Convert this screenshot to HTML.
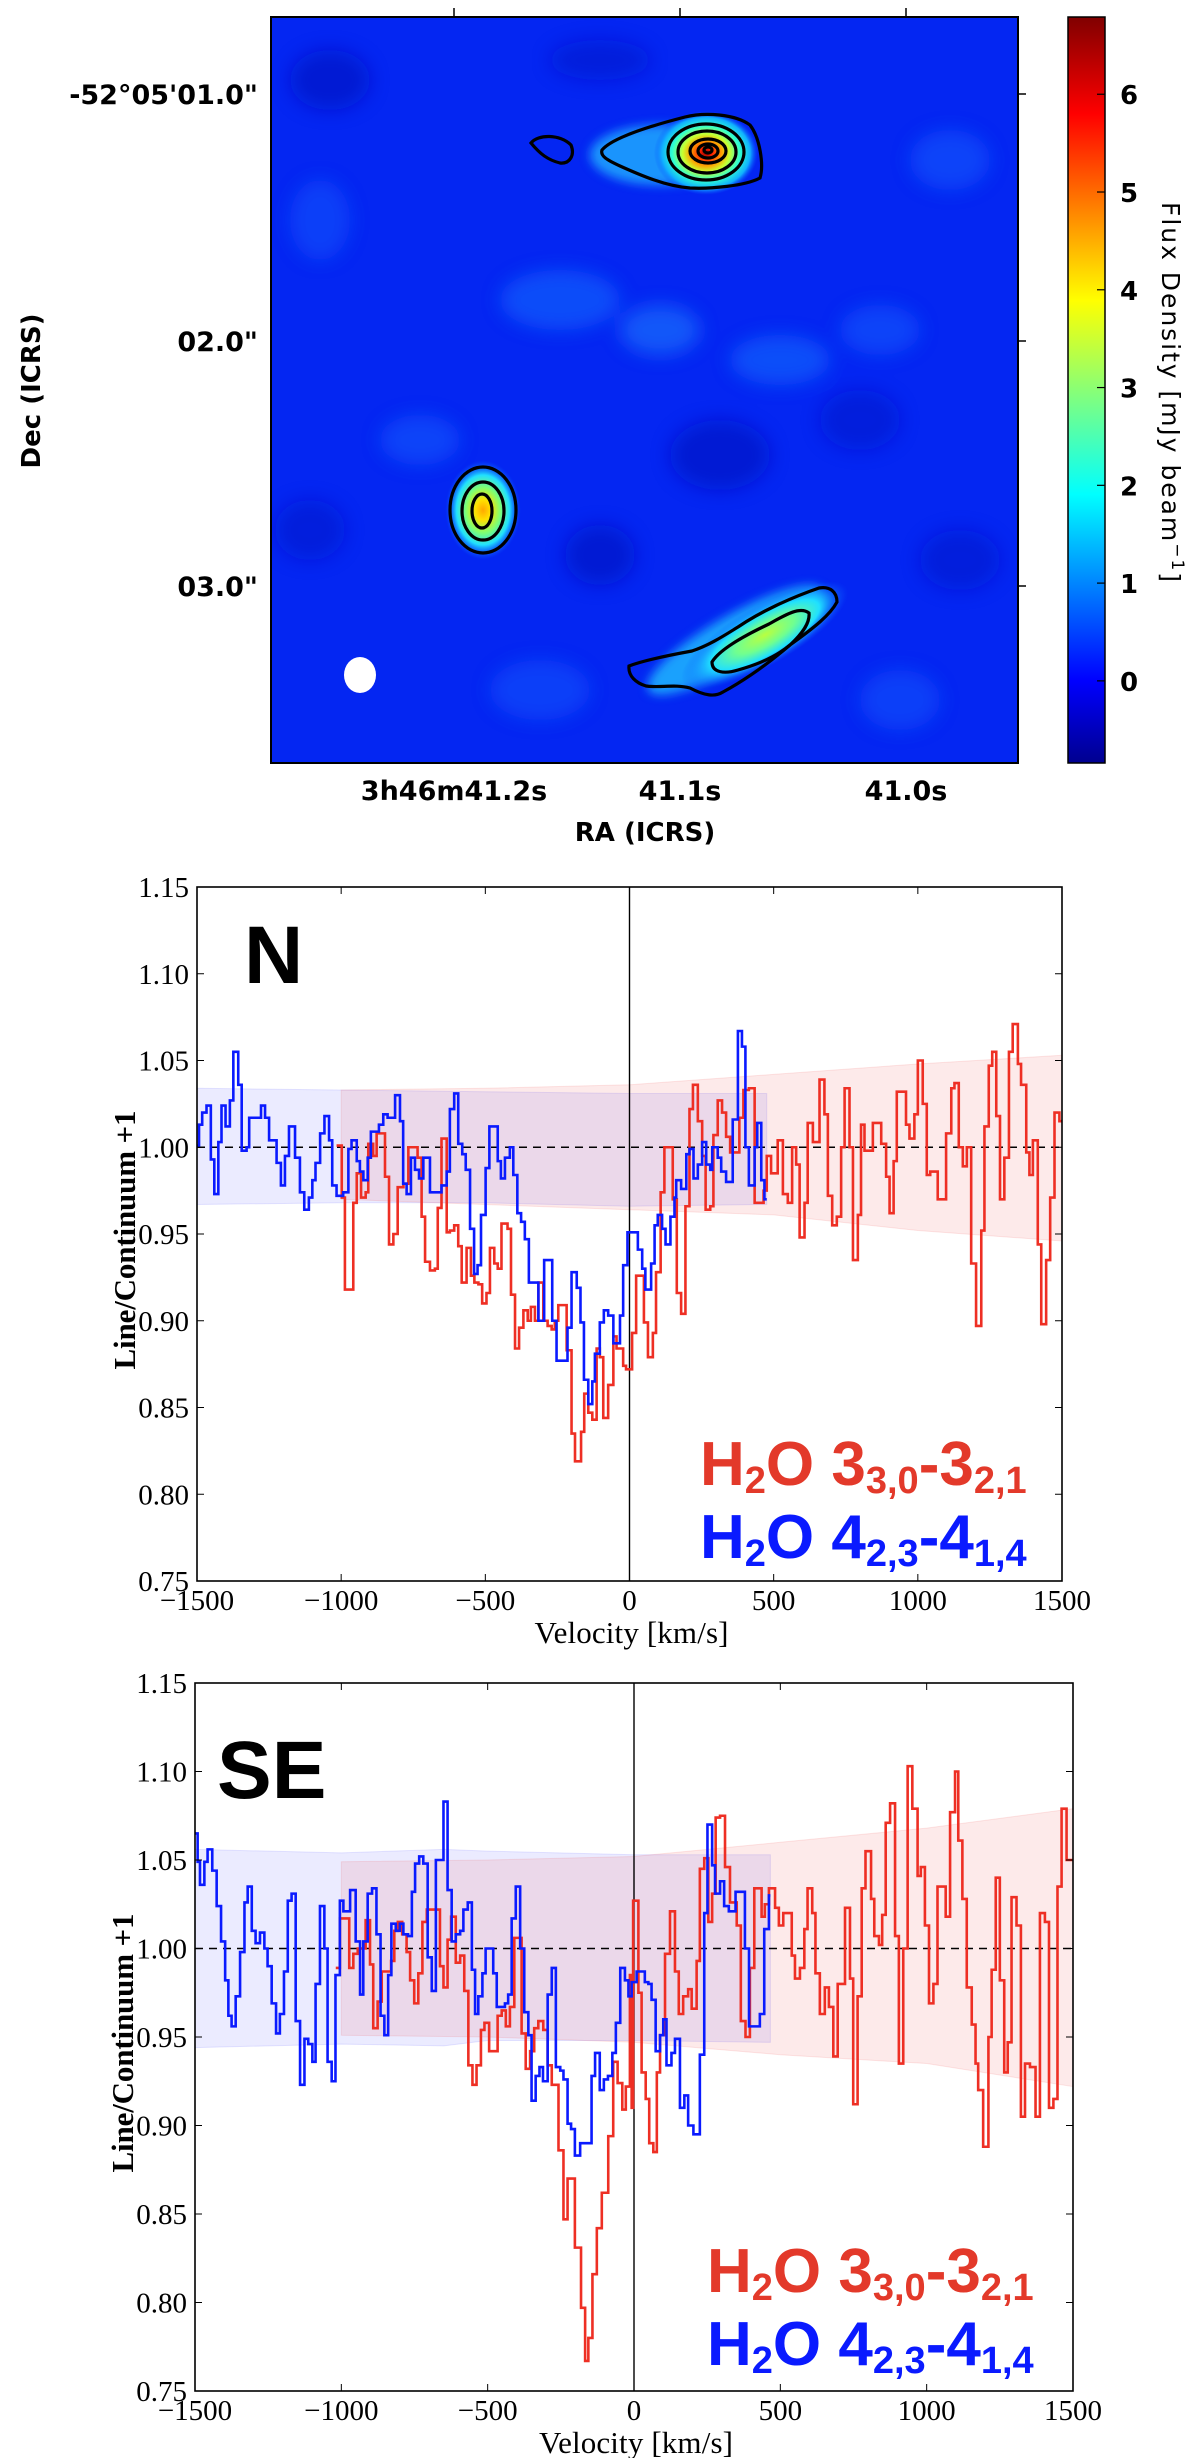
<!DOCTYPE html>
<html><head><meta charset="utf-8"><title>H2O spectra</title>
<style>
html,body{margin:0;padding:0;background:#fff;}
svg{display:block;}
.dv{font-family:"DejaVu Sans","Liberation Sans",sans-serif;}
.sf{font-family:"Liberation Serif",serif;}
.ls{font-family:"Liberation Sans",sans-serif;font-weight:bold;}
</style></head>
<body>
<svg id="fig" width="1200" height="2458" viewBox="0 0 1200 2458" xmlns="http://www.w3.org/2000/svg">
<defs>
  <filter id="blur8" x="-50%" y="-50%" width="200%" height="200%"><feGaussianBlur stdDeviation="9"/></filter>
  <filter id="blur4" x="-50%" y="-50%" width="200%" height="200%"><feGaussianBlur stdDeviation="5"/></filter>
  <clipPath id="mapclip"><rect x="271" y="17" width="747" height="746"/></clipPath>
  <linearGradient id="jet" x1="0" y1="1" x2="0" y2="0">
    <stop offset="0" stop-color="#00008f"/><stop offset="0.11" stop-color="#0000ff"/>
    <stop offset="0.36" stop-color="#00ffff"/><stop offset="0.62" stop-color="#ffff00"/>
    <stop offset="0.87" stop-color="#ff0000"/><stop offset="1" stop-color="#800000"/>
  </linearGradient>
  <radialGradient id="gN"><stop offset="0" stop-color="#900000"/><stop offset="0.12" stop-color="#ff2000"/><stop offset="0.3" stop-color="#ffa000"/><stop offset="0.45" stop-color="#c8ff30"/><stop offset="0.65" stop-color="#30ffd0"/><stop offset="0.85" stop-color="#10b0ff"/><stop offset="1" stop-color="#0a50ff" stop-opacity="0"/></radialGradient>
  <radialGradient id="gM"><stop offset="0" stop-color="#ffa800"/><stop offset="0.2" stop-color="#ffe000"/><stop offset="0.45" stop-color="#80ff70"/><stop offset="0.7" stop-color="#20e0ff"/><stop offset="1" stop-color="#0a50ff" stop-opacity="0"/></radialGradient>
  <radialGradient id="gS"><stop offset="0" stop-color="#b8ff40"/><stop offset="0.35" stop-color="#70ff90"/><stop offset="0.65" stop-color="#20e0ff"/><stop offset="1" stop-color="#0a50ff" stop-opacity="0"/></radialGradient>
</defs>

<!-- ===== Top map panel ===== -->
<g>
  <g clip-path="url(#mapclip)">
    <rect x="271" y="17" width="747" height="746" fill="#0426f2"/>
    <g filter="url(#blur8)">
      <ellipse cx="560" cy="300" rx="60" ry="30" fill="#1a6cff" opacity="0.55"/>
      <ellipse cx="660" cy="330" rx="40" ry="25" fill="#2080ff" opacity="0.55"/>
      <ellipse cx="780" cy="360" rx="50" ry="25" fill="#1a70ff" opacity="0.55"/>
      <ellipse cx="880" cy="330" rx="40" ry="25" fill="#1a60ff" opacity="0.5"/>
      <ellipse cx="420" cy="440" rx="40" ry="25" fill="#1a60ff" opacity="0.5"/>
      <ellipse cx="320" cy="220" rx="30" ry="40" fill="#1a60ff" opacity="0.45"/>
      <ellipse cx="950" cy="160" rx="40" ry="30" fill="#1a60ff" opacity="0.5"/>
      <ellipse cx="540" cy="690" rx="50" ry="30" fill="#1a60ff" opacity="0.45"/>
      <ellipse cx="900" cy="700" rx="40" ry="30" fill="#1a60ff" opacity="0.45"/>
      <ellipse cx="330" cy="80" rx="40" ry="30" fill="#0010c0" opacity="0.6"/>
      <ellipse cx="720" cy="455" rx="50" ry="35" fill="#0010c0" opacity="0.6"/>
      <ellipse cx="600" cy="555" rx="35" ry="30" fill="#0010c0" opacity="0.6"/>
      <ellipse cx="860" cy="420" rx="40" ry="30" fill="#0014c8" opacity="0.5"/>
      <ellipse cx="600" cy="60" rx="50" ry="20" fill="#0014c8" opacity="0.5"/>
      <ellipse cx="960" cy="560" rx="40" ry="30" fill="#0014c8" opacity="0.5"/>
      <ellipse cx="310" cy="530" rx="35" ry="30" fill="#0014c8" opacity="0.5"/>
    </g>
    <g filter="url(#blur4)">
      <ellipse cx="660" cy="155" rx="70" ry="30" fill="#20b0ff" opacity="0.8"/>
      <ellipse cx="735" cy="640" rx="100" ry="25" transform="rotate(-30 735 640)" fill="#20c0ff" opacity="0.8"/>
    </g>
    <ellipse cx="706" cy="153" rx="52" ry="42" fill="url(#gN)"/>
    <ellipse cx="483" cy="510" rx="38" ry="50" fill="url(#gM)"/>
    <ellipse cx="765" cy="635" rx="95" ry="30" transform="rotate(-30 765 635)" fill="url(#gS)"/>
    <g fill="none" stroke="#000" stroke-width="3.2">
      <path d="M602,150 C612,138 650,126 685,117 C705,112 735,114 750,125 C760,138 764,165 760,178 C745,186 710,189 690,188 C665,186 640,175 620,166 C607,160 600,156 602,150 Z"/>
      <path d="M531,143 C538,134 560,134 571,145 C575,155 570,164 560,163 C548,160 540,154 531,143 Z"/>
      <ellipse cx="706" cy="152" rx="38" ry="28"/>
      <ellipse cx="707" cy="152" rx="29" ry="21"/>
      <ellipse cx="708" cy="151" rx="18" ry="12"/>
      <ellipse cx="708" cy="151" rx="10" ry="7"/>
      <ellipse cx="708" cy="150" rx="4" ry="3"/>
      <ellipse cx="483" cy="510" rx="33" ry="43"/>
      <ellipse cx="483" cy="511" rx="21" ry="29"/>
      <ellipse cx="482" cy="511" rx="10" ry="17"/>
      <path d="M629,666 C645,660 670,655 692,651 C710,645 725,635 738,627 C760,612 790,598 819,588 C830,586 837,592 837,602 C830,615 815,627 790,645 C770,662 745,680 723,692 C715,697 705,696 690,688 C675,684 660,688 646,686 C636,683 628,676 629,666 Z"/>
      <path d="M712,662 C718,652 735,640 769,624 C785,615 800,606 809,613 C810,622 804,632 790,645 C778,655 760,664 738,670 C725,674 712,673 712,662 Z"/>
    </g>
    <ellipse cx="360" cy="675" rx="16" ry="18" fill="#fff"/>
  </g>
  <rect x="271" y="17" width="747" height="746" fill="none" stroke="#000" stroke-width="2"/>
  <g stroke="#000" stroke-width="1.5">
    <line x1="454" y1="17" x2="454" y2="8"/><line x1="680" y1="17" x2="680" y2="8"/><line x1="906" y1="17" x2="906" y2="8"/>
    <line x1="1018" y1="94" x2="1026" y2="94"/><line x1="1018" y1="341" x2="1026" y2="341"/><line x1="1018" y1="586" x2="1026" y2="586"/>
  </g>
  <g class="dv" font-weight="bold" font-size="27" fill="#000">
    <text x="258" y="104" text-anchor="end">-52°05'01.0"</text>
    <text x="258" y="351" text-anchor="end">02.0"</text>
    <text x="258" y="596" text-anchor="end">03.0"</text>
    <text x="454" y="800" text-anchor="middle">3h46m41.2s</text>
    <text x="680" y="800" text-anchor="middle">41.1s</text>
    <text x="906" y="800" text-anchor="middle">41.0s</text>
    <text x="645" y="841" text-anchor="middle" font-size="26">RA (ICRS)</text>
    <text x="0" y="0" transform="translate(40 391) rotate(-90)" text-anchor="middle" font-size="26">Dec (ICRS)</text>
  </g>
  <rect x="1068" y="17" width="37" height="746" fill="url(#jet)" stroke="#000" stroke-width="1.5"/>
  <g id="cbticks" class="dv" font-weight="bold" font-size="26" fill="#000"></g>
  <text class="dv" x="0" y="0" transform="translate(1162 392) rotate(90)" text-anchor="middle" font-size="25" textLength="380" fill="#000">Flux Density [mJy beam<tspan baseline-shift="super" font-size="17">−1</tspan>]</text>
</g>

<!-- ===== Spectrum panels ===== -->
<g id="panelN"></g>
<g id="panelSE"></g>
</svg>

<script>
// ---- colorbar ticks ----
const cbTicks = [0, 1, 2, 3, 4, 5, 6];
const cbMin = -0.84, cbMax = 6.79;

// ---- Panel N data ----
const nBlueV = [-1500,-1493,-1482,-1467,-1452,-1440,-1426,-1415,-1401,-1386,-1374,-1357,-1345,-1328,-1319,-1278,-1264,-1250,-1224,-1209,-1195,-1181,-1160,-1143,-1128,-1112,-1100,-1089,-1073,-1058,-1042,-1031,-1016,-993,-975,-964,-946,-935,-923,-908,-897,-869,-854,-839,-813,-796,-785,-773,-758,-744,-730,-715,-692,-652,-634,-623,-608,-594,-580,-568,-553,-539,-527,-515,-499,-486,-457,-446,-432,-415,-403,-389,-376,-363,-349,-316,-296,-268,-253,-215,-201,-183,-170,-158,-143,-129,-120,-103,-89,-74,-56,-33,-22,-7,29,44,55,75,87,98,113,125,142,156,162,179,197,208,222,237,252,266,280,287,306,318,335,358,376,390,402,414,434,443,457,468];
const nBlueF = [1.001,1.013,1.020,1.024,0.993,0.973,1.003,1.024,1.012,1.027,1.055,1.036,0.998,1.000,1.017,1.024,1.017,1.004,0.991,0.978,0.995,1.012,0.994,0.974,0.964,0.971,0.981,0.991,1.008,1.018,1.004,0.978,0.972,0.974,0.999,1.004,0.992,0.986,0.981,0.994,1.009,1.013,1.019,1.017,1.030,1.015,0.979,0.973,0.994,0.987,0.982,0.994,0.974,0.978,0.986,1.022,1.031,1.002,0.996,0.987,0.953,0.927,0.932,0.961,0.988,1.012,0.992,0.982,0.994,1.000,0.984,0.962,0.957,0.947,0.922,0.900,0.935,0.900,0.877,0.896,0.928,0.919,0.899,0.866,0.852,0.865,0.881,0.899,0.906,0.903,0.887,0.903,0.932,0.951,0.941,0.930,0.918,0.933,0.955,0.961,0.953,0.944,0.960,0.971,0.981,0.976,0.996,0.999,0.982,0.990,1.003,0.990,0.987,1.000,0.994,0.986,0.980,1.016,1.067,1.058,1.000,0.978,1.000,1.014,0.981,0.970];
const nBlueEnd = 476;
const nRedV = [-1016,-998,-987,-958,-946,-931,-915,-906,-889,-877,-848,-834,-819,-804,-784,-767,-735,-721,-709,-692,-675,-665,-652,-634,-623,-608,-594,-582,-565,-550,-538,-524,-511,-496,-484,-469,-457,-444,-423,-411,-397,-383,-368,-353,-342,-328,-316,-299,-284,-270,-259,-247,-218,-201,-189,-168,-157,-143,-129,-114,-103,-91,-74,-56,-45,-22,-12,9,23,50,64,81,92,108,121,150,164,179,194,208,220,237,252,264,280,291,306,321,335,349,381,395,414,434,465,476,491,514,532,549,564,578,590,607,618,636,659,676,688,703,719,734,746,763,775,792,803,815,844,873,890,902,916,927,959,971,988,1000,1017,1031,1043,1069,1098,1116,1127,1142,1156,1170,1185,1202,1220,1231,1246,1258,1272,1285,1300,1316,1329,1347,1358,1376,1387,1399,1416,1428,1445,1459,1474,1491];
const nRedF = [1.001,0.971,0.918,0.968,0.985,0.971,0.974,1.002,0.995,1.008,0.983,0.944,0.950,0.977,0.979,1.000,0.994,0.960,0.934,0.929,0.930,0.965,1.005,0.951,0.952,0.955,0.943,0.922,0.942,0.926,0.922,0.921,0.910,0.916,0.942,0.933,0.930,0.956,0.953,0.915,0.884,0.896,0.906,0.900,0.908,0.900,0.922,0.900,0.897,0.895,0.900,0.909,0.883,0.835,0.819,0.836,0.858,0.847,0.843,0.884,0.879,0.844,0.863,0.891,0.884,0.874,0.872,0.893,0.926,0.899,0.879,0.893,0.928,0.974,1.000,0.970,0.916,0.904,0.966,1.022,1.036,1.015,0.995,0.964,0.966,1.007,1.027,1.020,1.006,0.997,1.017,1.033,1.034,0.968,0.975,0.995,0.985,1.004,0.973,0.968,1.000,0.990,0.948,0.968,1.014,1.003,1.039,1.019,0.972,0.955,0.960,1.000,1.034,1.000,0.935,0.961,1.013,0.998,1.014,1.002,0.983,0.962,0.992,1.032,1.013,1.005,1.019,1.050,1.025,0.984,0.986,0.970,1.008,1.034,1.037,1.000,0.989,1.000,0.933,0.897,0.952,1.012,1.047,1.055,1.018,0.970,0.994,1.055,1.071,1.048,1.036,0.997,0.984,1.004,0.944,0.898,0.935,0.971,1.020,1.015];
const nRedEnd = 1500;
const nBlueBandV = [-1500,-1000,-500,0,476];
const nBlueBandTop = [1.034,1.033,1.032,1.031,1.031];
const nBlueBandBot = [0.967,0.968,0.968,0.966,0.967];
const nRedBandV = [-1000,-500,0,500,1000,1500];
const nRedBandTop = [1.033,1.034,1.036,1.042,1.048,1.053];
const nRedBandBot = [0.970,0.967,0.964,0.961,0.952,0.946];

// ---- Panel SE data ----
const sBlueV = [-1500,-1491,-1483,-1468,-1457,-1441,-1426,-1411,-1397,-1386,-1375,-1361,-1346,-1331,-1320,-1306,-1293,-1278,-1263,-1252,-1238,-1223,-1210,-1196,-1183,-1170,-1156,-1141,-1126,-1113,-1099,-1088,-1073,-1058,-1047,-1033,-1020,-1005,-993,-970,-951,-936,-925,-910,-895,-880,-866,-853,-840,-829,-814,-800,-788,-772,-759,-748,-734,-720,-705,-691,-677,-651,-637,-623,-609,-594,-583,-568,-554,-543,-532,-518,-507,-495,-481,-469,-455,-441,-430,-418,-404,-389,-375,-361,-350,-336,-323,-311,-295,-281,-267,-252,-241,-227,-215,-202,-184,-170,-156,-145,-133,-117,-103,-89,-74,-62,-47,-31,-19,-8,9,37,49,60,74,89,100,111,128,140,157,172,185,203,225,240,251,267,277,294,308,324,347,379,393,430,445,461];
const sBlueF = [1.065,1.049,1.036,1.049,1.056,1.044,1.024,1.004,0.982,0.962,0.956,0.973,0.998,1.026,1.035,1.010,1.003,1.009,1.000,0.990,0.969,0.952,0.963,0.987,1.027,1.031,0.959,0.923,0.949,0.946,0.936,0.980,1.024,1.000,0.936,0.925,0.985,1.027,1.021,1.033,1.004,0.974,1.004,1.031,1.034,1.008,0.962,0.951,0.985,1.014,1.010,1.014,1.008,1.007,1.032,1.048,1.052,1.048,0.995,0.976,1.050,1.083,1.033,1.004,1.008,1.010,1.022,1.026,0.988,0.963,0.973,0.986,1.000,1.000,0.986,0.967,0.967,0.969,0.974,1.017,1.035,1.000,0.964,0.951,0.914,0.928,0.933,0.925,0.974,0.989,0.933,0.931,0.926,0.901,0.898,0.883,0.890,0.890,0.890,0.928,0.941,0.920,0.926,0.928,0.941,0.958,0.989,0.982,0.973,0.981,0.987,0.981,0.980,0.971,0.942,0.951,0.960,0.934,0.941,0.949,0.910,0.917,0.900,0.895,0.940,1.020,1.070,1.047,1.031,1.038,1.024,1.021,1.032,1.000,0.956,0.963,1.011,1.030];
const sBlueEnd = 466;
const sRedV = [-1019,-1005,-973,-959,-944,-917,-902,-891,-876,-862,-830,-819,-807,-792,-777,-765,-751,-737,-723,-708,-663,-651,-637,-625,-609,-594,-580,-566,-552,-538,-523,-511,-495,-466,-452,-438,-424,-409,-384,-370,-355,-341,-327,-310,-295,-281,-258,-241,-227,-202,-181,-167,-156,-142,-127,-110,-88,-71,-56,-40,-28,-14,-8,-3,15,26,40,52,66,78,89,106,123,140,153,168,185,197,214,225,240,254,267,279,294,311,328,351,365,381,396,411,436,447,461,482,495,510,539,550,567,582,593,609,620,635,652,666,681,696,721,738,749,764,778,791,810,821,837,848,860,875,892,905,920,935,951,969,980,994,1008,1023,1037,1065,1080,1097,1108,1122,1137,1154,1167,1176,1193,1211,1222,1236,1250,1265,1277,1290,1307,1322,1336,1353,1372,1387,1404,1418,1433,1447,1461,1478];
const sRedF = [0.989,1.017,0.989,0.997,1.000,1.016,0.991,0.955,0.970,0.987,0.993,1.010,1.015,1.008,0.998,0.982,0.969,0.986,1.015,1.022,0.990,0.978,1.005,1.018,0.992,0.996,0.976,0.934,0.923,0.934,0.954,0.958,0.942,0.962,0.965,0.956,0.967,1.006,0.952,0.932,0.942,0.955,0.959,0.954,0.934,0.923,0.886,0.847,0.870,0.831,0.797,0.767,0.780,0.816,0.842,0.862,0.894,0.936,0.924,0.909,0.922,0.985,0.910,1.027,0.975,0.930,0.915,0.890,0.885,0.930,0.951,0.997,1.021,0.987,0.963,0.973,0.977,0.966,0.993,1.045,1.051,1.015,1.031,1.074,1.075,1.046,1.026,1.013,0.959,0.950,0.989,1.034,1.018,1.025,1.034,1.023,1.013,1.020,0.996,0.983,0.989,1.011,1.034,1.020,0.986,0.963,0.978,0.967,0.939,0.980,1.023,0.983,0.912,0.973,1.034,1.055,1.028,1.007,1.002,1.019,1.071,1.082,1.007,0.935,1.000,1.103,1.079,1.041,1.046,1.013,0.969,0.980,1.035,1.018,1.077,1.100,1.061,1.028,0.978,0.957,0.935,0.920,0.888,0.950,0.988,1.040,0.982,0.930,0.947,1.029,1.013,0.905,0.935,0.933,0.905,1.020,1.015,0.910,0.915,1.035,1.079,1.050];
const sRedEnd = 1500;
const sBlueBandV = [-1500,-1000,-650,-500,0,466];
const sBlueBandTop = [1.056,1.054,1.056,1.055,1.053,1.053];
const sBlueBandBot = [0.944,0.946,0.945,0.948,0.948,0.947];
const sRedBandV = [-1000,-500,0,500,1000,1500];
const sRedBandTop = [1.049,1.050,1.052,1.060,1.068,1.079];
const sRedBandBot = [0.951,0.950,0.947,0.940,0.935,0.922];

const xTicks = [-1500,-1000,-500,0,500,1000,1500];
const xTickLabels = ["\u22121500","\u22121000","\u2212500","0","500","1000","1500"];
const yTicks = [0.75,0.80,0.85,0.90,0.95,1.00,1.05,1.10,1.15];
const yTickLabels = ["0.75","0.80","0.85","0.90","0.95","1.00","1.05","1.10","1.15"];

const NS = "http://www.w3.org/2000/svg";
function mk(tag, attrs, parent) {
  const e = document.createElementNS(NS, tag);
  for (const k in attrs) e.setAttribute(k, attrs[k]);
  if (parent) parent.appendChild(e);
  return e;
}

// colorbar ticks
(function(){
  const g = document.getElementById('cbticks');
  const y0 = 17, y1 = 763;
  cbTicks.forEach(function(v){
    const y = y1 - (v - cbMin) / (cbMax - cbMin) * (y1 - y0);
    const t = mk('line', {x1:1097, x2:1105, y1:y, y2:y, stroke:'#000', 'stroke-width':1.2}, g);
    
    
    const tx = mk('text', {x:1120, y:y+10}, g);
    tx.textContent = String(v);
    
    
  });
})();

function drawPanel(gid, box, letter, bBV, bBT, bBB, rBV, rBT, rBB, bV, bF, bEnd, rV, rF, rEnd) {
  const g = document.getElementById(gid);
  const X0 = box.x0, X1 = box.x1, Y0 = box.y0, Y1 = box.y1;
  const xs = v => X0 + (v + 1500) / 3000 * (X1 - X0);
  const ys = f => Y1 - (f - 0.75) / 0.4 * (Y1 - Y0);

  function band(V, T, B, fill, stroke, name) {
    let d = 'M' + xs(V[0]) + ',' + ys(T[0]);
    for (let i = 1; i < V.length; i++) d += ' L' + xs(V[i]) + ',' + ys(T[i]);
    for (let i = V.length - 1; i >= 0; i--) d += ' L' + xs(V[i]) + ',' + ys(B[i]);
    d += ' Z';
    const p = mk('path', {d:d, fill:fill, stroke:stroke, 'stroke-width':1}, g);
    
    
  }
  band(bBV, bBT, bBB, 'rgba(60,60,255,0.10)', 'rgba(60,60,255,0.12)', 'blue-noise-band');
  band(rBV, rBT, rBB, 'rgba(235,60,60,0.11)', 'rgba(235,60,60,0.12)', 'red-noise-band');

  const dl = mk('line', {x1:X0, x2:X1, y1:ys(1), y2:ys(1), stroke:'#000', 'stroke-width':1.6, 'stroke-dasharray':'8,6'}, g);
  
  
  const zl = mk('line', {x1:xs(0), x2:xs(0), y1:Y0, y2:Y1, stroke:'#000', 'stroke-width':1.4}, g);
  
  

  function steps(V, F, end, color, name) {
    let d = 'M' + xs(V[0]) + ',' + ys(F[0]);
    for (let i = 1; i < V.length; i++) d += ' H' + xs(V[i]) + ' V' + ys(F[i]);
    d += ' H' + xs(end);
    const p = mk('path', {d:d, fill:'none', stroke:color, 'stroke-width':2.6, 'stroke-linejoin':'miter'}, g);
    
    
  }
  steps(rV, rF, rEnd, '#ee2f24', 'spectrum-h2o-330-321');
  steps(bV, bF, bEnd, '#0a1aff', 'spectrum-h2o-423-414');

  const fr = mk('rect', {x:X0, y:Y0, width:X1-X0, height:Y1-Y0, fill:'none', stroke:'#000', 'stroke-width':1.6}, g);
  
  

  xTicks.forEach(function(v, i){
    const x = xs(v);
    mk('line', {x1:x, x2:x, y1:Y1, y2:Y1-7, stroke:'#000', 'stroke-width':1}, g);
    mk('line', {x1:x, x2:x, y1:Y0, y2:Y0+7, stroke:'#000', 'stroke-width':1}, g);
    const t = mk('text', {x:x, y:Y1+29, 'text-anchor':'middle', 'font-size':29, class:'sf'}, g);
    t.textContent = xTickLabels[i];
    
    
  });
  yTicks.forEach(function(f, i){
    const y = ys(f);
    mk('line', {x1:X0, x2:X0+7, y1:y, y2:y, stroke:'#000', 'stroke-width':1}, g);
    mk('line', {x1:X1, x2:X1-7, y1:y, y2:y, stroke:'#000', 'stroke-width':1}, g);
    const t = mk('text', {x:X0-8, y:y+10, 'text-anchor':'end', 'font-size':29, class:'sf'}, g);
    t.textContent = yTickLabels[i];
    
    
  });

  const xl = mk('text', {x:(X0+X1)/2+2, y:Y1+62, 'text-anchor':'middle', 'font-size':31, class:'sf', textLength:194}, g);
  xl.textContent = 'Velocity [km/s]';
  
  
  const yl = mk('text', {x:0, y:0, transform:'translate(' + (X0-62) + ' ' + ((Y0+Y1)/2+6) + ') rotate(-90)', 'text-anchor':'middle', 'font-size':31, 'font-weight':'bold', class:'sf', textLength:259}, g);
  yl.textContent = 'Line/Continuum +1';
  
  

  const lt = mk('text', {x:box.lx, y:box.ly, 'font-size':82, class:'ls'}, g);
  lt.textContent = letter;
  
  

  function legend(y, color, main, s1, s2, name) {
    const t = mk('text', {x:box.legx, y:y, 'font-size':62, class:'ls', fill:color}, g);
    
    
    const a = mk('tspan', {}, t); a.textContent = 'H';
    const b = mk('tspan', {'font-size':38, dy:8}, t); b.textContent = '2';
    const c = mk('tspan', {dy:-8}, t); c.textContent = 'O ' + main[0];
    const d = mk('tspan', {'font-size':38, dy:8}, t); d.textContent = s1;
    const e = mk('tspan', {dy:-8}, t); e.textContent = '-' + main[1];
    const f = mk('tspan', {'font-size':38, dy:8}, t); f.textContent = s2;
  }
  legend(box.leg1y, '#e3392a', ['3','3'], '3,0', '2,1', 'legend-entry-h2o-330-321');
  legend(box.leg2y, '#0a1aff', ['4','4'], '2,3', '1,4', 'legend-entry-h2o-423-414');
}

drawPanel('panelN', {x0:197, x1:1062, y0:887, y1:1581, lx:244, ly:983, legx:700, leg1y:1485, leg2y:1558},
  'N', nBlueBandV, nBlueBandTop, nBlueBandBot, nRedBandV, nRedBandTop, nRedBandBot,
  nBlueV, nBlueF, nBlueEnd, nRedV, nRedF, nRedEnd);
drawPanel('panelSE', {x0:195, x1:1073, y0:1683, y1:2391, lx:217, ly:1798, legx:707, leg1y:2292, leg2y:2365},
  'SE', sBlueBandV, sBlueBandTop, sBlueBandBot, sRedBandV, sRedBandTop, sRedBandBot,
  sBlueV, sBlueF, sBlueEnd, sRedV, sRedF, sRedEnd);
</script>
</body></html>
